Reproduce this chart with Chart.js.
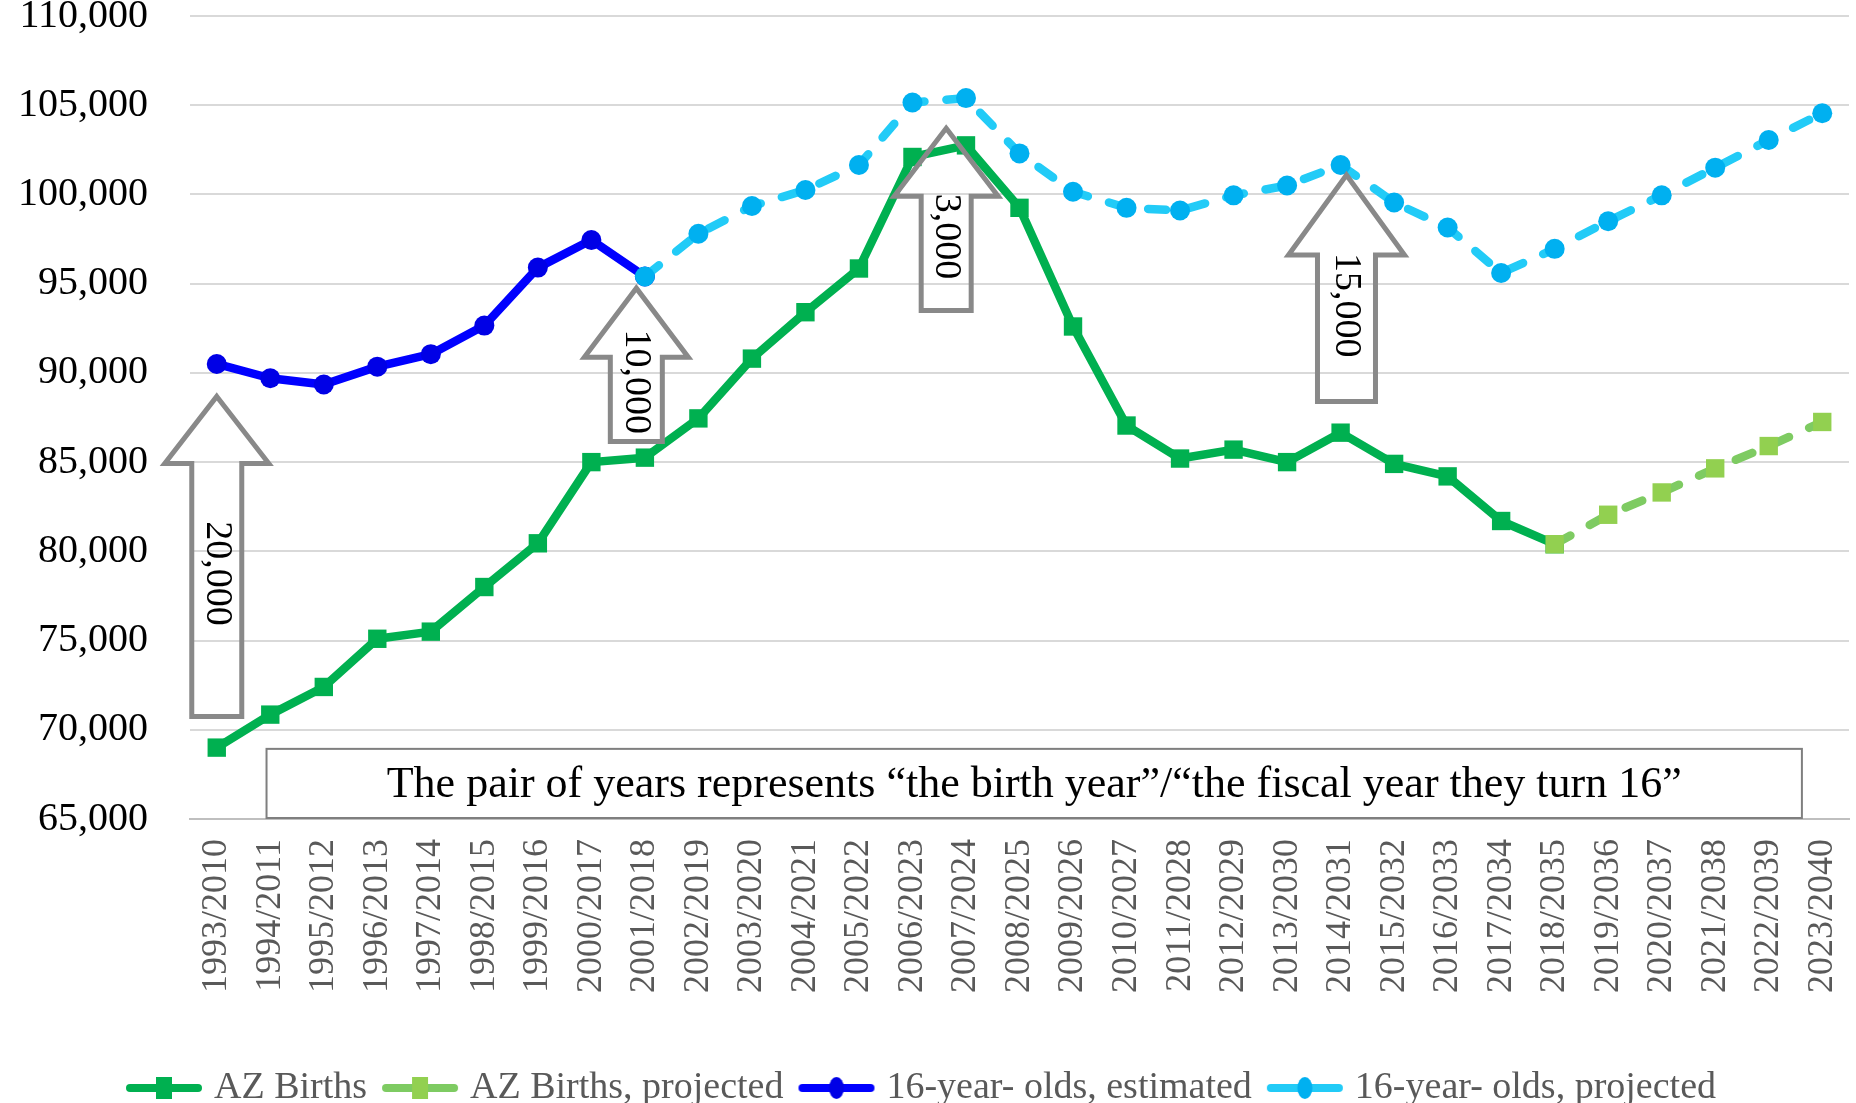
<!DOCTYPE html>
<html>
<head>
<meta charset="utf-8">
<script src="https://cdn.jsdelivr.net/npm/chart.js@4.4.1/dist/chart.umd.min.js"></script>
<style>
  html, body { margin: 0; padding: 0; background: #fff; }
  #wrap { width: 1856px; height: 1103px; }
</style>
</head>
<body>
<div id="wrap"><canvas id="chart" width="1856" height="1103"></canvas></div>
<script>
/* ===============================
   DATA
================================ */
const yearPairs = [
  "1993/2010", "1994/2011", "1995/2012", "1996/2013", "1997/2014", "1998/2015",
  "1999/2016", "2000/2017", "2001/2018", "2002/2019", "2003/2020", "2004/2021",
  "2005/2022", "2006/2023", "2007/2024", "2008/2025", "2009/2026", "2010/2027",
  "2011/2028", "2012/2029", "2013/2030", "2014/2031", "2015/2032", "2016/2033",
  "2017/2034", "2018/2035", "2019/2036", "2020/2037", "2021/2038", "2022/2039",
  "2023/2040",
];

const azBirths = [
  69000, 70850, 72400, 75100, 75500, 78000, 80450, 85000, 85250, 87450,
  90800, 93400, 95850, 102100, 102750, 99250, 92600, 87050, 85200, 85700,
  85000, 86650, 84900, 84200, 81700, 80400, null, null, null, null, null,
];

const azBirthsProjected = [
  null, null, null, null, null, null, null, null, null, null,
  null, null, null, null, null, null, null, null, null, null,
  null, null, null, null, null, 80400, 82050, 83300, 84650, 85900, 87250,
];

const teensEstimated = [
  90500, 89700, 89350, 90350, 91050, 92650, 95900, 97450, 95400, null,
  null, null, null, null, null, null, null, null, null, null,
  null, null, null, null, null, null, null, null, null, null, null,
];

const teensProjected = [
  null, null, null, null, null, null, null, null, 95400, 97800,
  99350, 100250, 101650, 105150, 105400, 102300, 100150, 99250, 99100, 99950,
  100500, 101650, 99550, 98150, 95600, 96950, 98500, 99950, 101500, 103050,
  104550,
];

const yTicksMin = 65000;
const yTicksMax = 110000;
const yTicksStep = 5000;

/* arrows: category position, tip value, base value, label */
const arrowAt = [0, 7.84, 13.63, 21.11];
const arrowTip = [88680, 94750, 103710, 101090];
const arrowBase = [70750, 86150, 93490, 88400];
const arrowLabel = ["20,000", "10,000", "3,000", "15,000"];
// head half width, head height, shaft half width (px)
const arrowHeadW = [52, 52, 52, 58];
const arrowHeadH = [67, 69, 68, 80];
const arrowShaftW = [25, 26, 25, 29];

const noteText = "The pair of years represents \u201cthe birth year\u201d/\u201cthe fiscal year they turn 16\u201d";

/* ===============================
   STYLE CONSTANTS
================================ */
const FONT = "'Liberation Serif', 'DejaVu Serif', serif";
const GREEN = "#00B050";
const LIGHT_GREEN_LINE = "#7ECB62";
const LIGHT_GREEN_MARK = "#92D050";
const BLUE = "#0000FF";
const BLUE_MARK = "#0000E6";
const SKY_LINE = "#22CBF7";
const SKY_MARK = "#00B0F0";

/* legend swatch: line with marker in the middle */
function legendSwatch(lineColor, markColor, shape) {
  const c = document.createElement("canvas");
  c.width = 78;
  c.height = 24;
  const g = c.getContext("2d");
  g.strokeStyle = lineColor;
  g.lineWidth = 8;
  g.lineCap = "round";
  g.beginPath();
  g.moveTo(5, 12);
  g.lineTo(73, 12);
  g.stroke();
  g.fillStyle = markColor;
  if (shape === "rect") {
    g.fillRect(31, 1, 16, 22);
  } else {
    g.beginPath();
    g.ellipse(39, 12, 7.5, 11, 0, 0, Math.PI * 2);
    g.fill();
  }
  return c;
}

const swatches = [
  legendSwatch(GREEN, GREEN, "rect"),
  legendSwatch(LIGHT_GREEN_LINE, LIGHT_GREEN_MARK, "rect"),
  legendSwatch(BLUE, BLUE_MARK, "circle"),
  legendSwatch(SKY_LINE, SKY_MARK, "circle"),
];

/* ===============================
   ANNOTATION PLUGIN
================================ */
const notesPlugin = {
  id: "notes",
  afterDatasetsDraw(chart) {
    const { ctx, scales: { x, y } } = chart;
    ctx.save();

    // up arrows with rotated numbers
    arrowAt.forEach((pos, i) => {
      const cx = x.getPixelForValue(pos);
      const tip = y.getPixelForValue(arrowTip[i]);
      const base = y.getPixelForValue(arrowBase[i]);
      const headH = arrowHeadH[i];
      const headW = arrowHeadW[i];
      const shaftW = arrowShaftW[i];
      ctx.beginPath();
      ctx.moveTo(cx, tip);
      ctx.lineTo(cx + headW, tip + headH);
      ctx.lineTo(cx + shaftW, tip + headH);
      ctx.lineTo(cx + shaftW, base);
      ctx.lineTo(cx - shaftW, base);
      ctx.lineTo(cx - shaftW, tip + headH);
      ctx.lineTo(cx - headW, tip + headH);
      ctx.closePath();
      ctx.strokeStyle = "#898989";
      ctx.lineWidth = 5;
      ctx.lineJoin = "miter";
      ctx.stroke();

      ctx.save();
      ctx.translate(cx, (tip + base) / 2 + 17);
      ctx.rotate(Math.PI / 2);
      ctx.fillStyle = "#000";
      ctx.font = "38px " + FONT;
      ctx.textAlign = "center";
      ctx.textBaseline = "middle";
      ctx.fillText(arrowLabel[i], 0, 0);
      ctx.restore();
    });

    // explanation box at the bottom of the plot
    const left = x.getPixelForValue(0.93);
    const right = x.getPixelForValue(29.62);
    const top = y.getPixelForValue(68930);
    const bottom = y.getPixelForValue(yTicksMin) - 1;
    ctx.fillStyle = "#fff";
    ctx.fillRect(left, top, right - left, bottom - top);
    ctx.strokeStyle = "#7f7f7f";
    ctx.lineWidth = 2;
    ctx.strokeRect(left, top, right - left, bottom - top);
    ctx.fillStyle = "#000";
    ctx.font = "44px " + FONT;
    ctx.textAlign = "center";
    ctx.textBaseline = "middle";
    ctx.fillText(noteText, (left + right) / 2, (top + bottom) / 2 + 2);

    ctx.restore();
  },
};

/* ===============================
   CHART
================================ */
const lineBase = {
  borderWidth: 8.5,
  pointRadius: 10,
  pointHoverRadius: 10,
  pointBorderWidth: 0,
  spanGaps: false,
  tension: 0,
  borderCapStyle: "round",
  borderJoinStyle: "round",
};

new Chart(document.getElementById("chart"), {
  type: "line",
  data: {
    labels: yearPairs,
    datasets: [
      {
        ...lineBase,
        label: "AZ Births",
        data: azBirths,
        borderColor: GREEN,
        backgroundColor: GREEN,
        pointStyle: "rect",
        pointRadius: 13,
        order: 2,
      },
      {
        ...lineBase,
        label: "AZ Births, projected",
        data: azBirthsProjected,
        borderColor: LIGHT_GREEN_LINE,
        backgroundColor: LIGHT_GREEN_MARK,
        pointStyle: "rect",
        pointRadius: 13,
        borderDash: [18, 22],
        order: 1,
      },
      {
        ...lineBase,
        label: "16-year- olds, estimated",
        data: teensEstimated,
        borderColor: BLUE,
        backgroundColor: BLUE_MARK,
        pointStyle: "circle",
        order: 2,
      },
      {
        ...lineBase,
        label: "16-year- olds, projected",
        data: teensProjected,
        borderColor: SKY_LINE,
        backgroundColor: SKY_MARK,
        pointStyle: "circle",
        borderDash: [18, 22],
        order: 1,
      },
    ],
  },
  options: {
    responsive: false,
    animation: false,
    layout: { autoPadding: false, padding: { top: 0, right: 7, bottom: -14, left: 0 } },
    plugins: {
      tooltip: { enabled: false },
      legend: {
        position: "bottom",
        labels: {
          usePointStyle: true,
          pointStyleWidth: 62,
          padding: 22,
          color: "#595959",
          font: { family: FONT, size: 38 },
          sort: (a, b) => a.datasetIndex - b.datasetIndex,
          generateLabels: (chart) =>
            Chart.defaults.plugins.legend.labels
              .generateLabels(chart)
              .map((item) => ({ ...item, pointStyle: swatches[item.datasetIndex] })),
        },
      },
    },
    scales: {
      x: {
        offset: true,
        grid: { display: false },
        border: { color: "#bfbfbf", width: 2 },
        ticks: {
          autoSkip: false,
          minRotation: 90,
          maxRotation: 90,
          padding: 12,
          color: "#595959",
          font: { family: FONT, size: 36 },
        },
        afterFit: (scale) => {
          scale.height = 228;
          scale.paddingRight = 0;
        },
      },
      y: {
        min: yTicksMin,
        max: yTicksMax,
        border: { display: false },
        grid: { color: "#d9d9d9", lineWidth: 2, drawTicks: false },
        ticks: {
          stepSize: yTicksStep,
          padding: 42,
          color: "#000",
          font: { family: FONT, size: 40 },
          callback: (v) => v.toLocaleString("en-US"),
        },
        afterFit: (scale) => {
          scale.width = 190;
          scale.paddingTop = 16;
          scale.paddingBottom = 0;
        },
      },
    },
  },
  plugins: [notesPlugin],
});
</script>
</body>
</html>
